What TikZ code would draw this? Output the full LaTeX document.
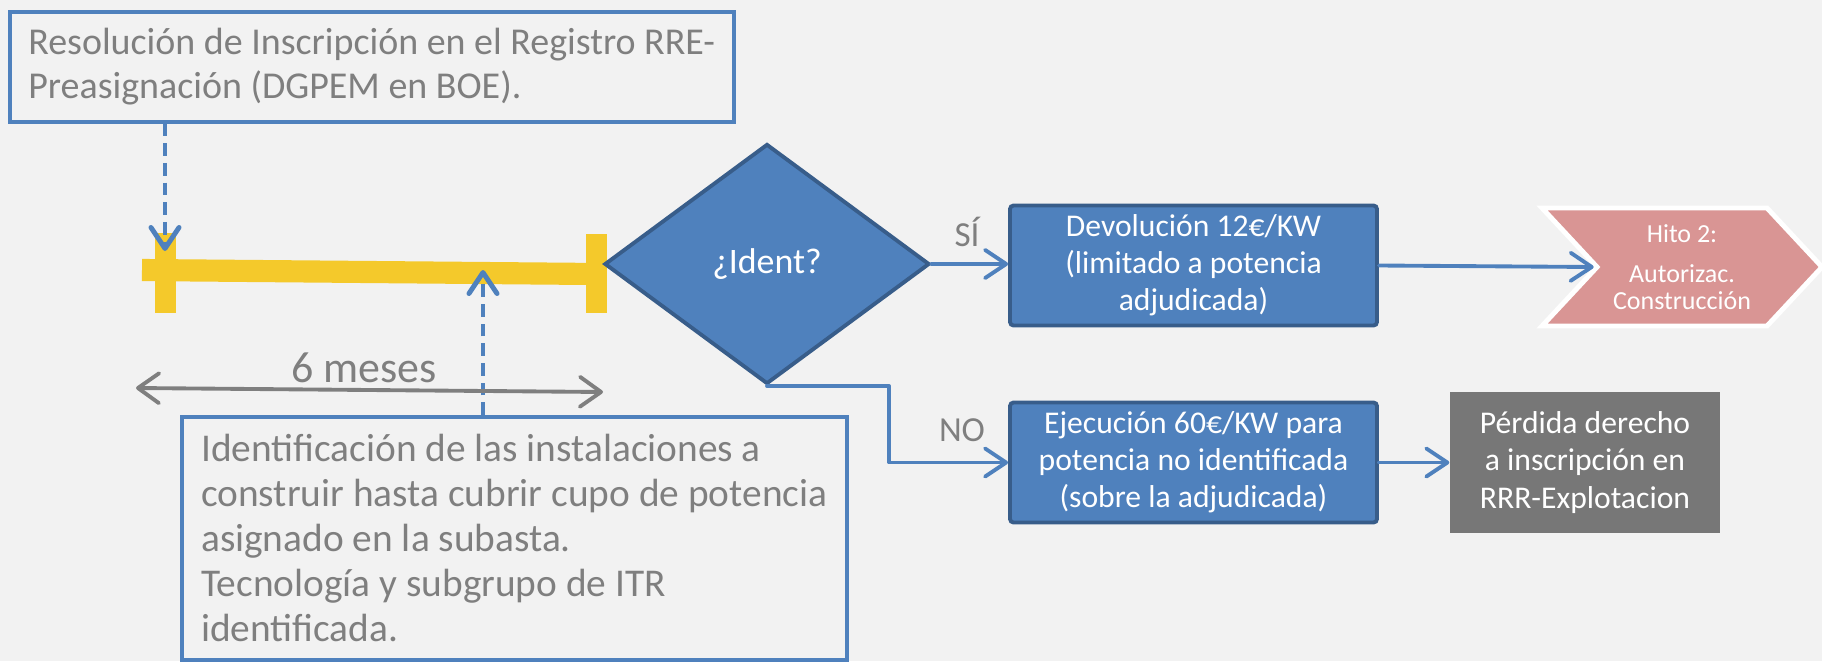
\documentclass[tikz,border=0pt]{standalone}
\usepackage{fontspec}
\setmainfont{Carlito}
\usetikzlibrary{shapes.geometric,shapes.symbols,arrows.meta}
\definecolor{fondo}{HTML}{F2F2F2}
\definecolor{azul}{HTML}{4F81BD}
\definecolor{azulosc}{HTML}{385D8A}
\definecolor{amarillo}{HTML}{F4C92B}
\definecolor{gristxt}{HTML}{7F7F7F}
\definecolor{griscaja}{HTML}{777777}
\definecolor{rosa}{HTML}{D99594}

\begin{document}
\begin{tikzpicture}[
      nota/.style={draw=azul, line width=1pt, fill=fondo, text=gristxt, align=left,
        inner xsep=0pt, inner ysep=0pt, anchor=north west},
      paso/.style={draw=azulosc, line width=1.1pt, fill=azul, text=white, align=center,
        rounded corners=1pt, minimum width=3.67cm, minimum height=1.2cm, inner sep=0pt,
        font=\fontsize{9}{10.5}\selectfont},
      etiqueta/.style={text=gristxt, font=\fontsize{10}{12}\selectfont},
      flecha/.style={draw=azul, line width=1.1pt, line cap=round, line join=round,
        -{Straight Barb[round,length=6pt,width=8pt]}},
      punteada/.style={flecha, line width=1.4pt, line cap=butt, dash pattern=on 3.6pt off 2pt},
      cota/.style={draw=gristxt, line width=1.1pt,
        {Straight Barb[round,length=6pt,width=8.5pt]}-{Straight Barb[round,length=6pt,width=8.5pt]}}]
      % Fondo
      \fill[fondo] (0,0) rectangle (18.22,-6.61);
      \useasboundingbox (0,0) rectangle (18.22,-6.61);

      % Barra de plazo
      \coordinate (b0) at (1.42,-2.70);
      \coordinate (b1) at (5.96,-2.74);
      \draw[amarillo, line width=6.3pt] (b0) -- (b1);
      \fill[amarillo] (1.55,-2.33) rectangle (1.76,-3.13);
      \fill[amarillo] (5.86,-2.34) rectangle (6.07,-3.13);
      \coordinate (t0) at (1.65,-2.51);
      \coordinate (t1) at (4.83,-2.70);

      % Define nodes
      \node[nota, minimum width=7.24cm, minimum height=1.1cm, font=\fontsize{10.8}{12.5}\selectfont]
        (resol) at (0.08,-0.10) {Resolución de Inscripción en el Registro RRE-\\Preasignación (DGPEM en BOE).};
      \node[nota, minimum width=6.65cm, minimum height=2.43cm, font=\fontsize{11.2}{12.8}\selectfont]
        (ident) at (1.80,-4.15) {Identificación de las instalaciones a\\construir hasta cubrir cupo de potencia\\asignado en la subasta.\\Tecnología y subgrupo de ITR\\identificada.};
      \node[diamond, draw=azulosc, line width=1.1pt, fill=azul, text=white, aspect=1.35,
        minimum width=3.25cm, minimum height=2.4cm, inner sep=0pt,
        font=\fontsize{10.2}{12}\selectfont] (pregunta) at (7.67,-2.64) {¿Ident?};
      \node[paso] (devol) at (11.935,-2.655) {Devolución 12€/KW\\(limitado a potencia\\adjudicada)};
      \node[paso] (ejec) at (11.935,-4.625) {Ejecución 60€/KW para\\potencia no identificada\\(sobre la adjudicada)};
      \node[fill=griscaja, text=white, align=center, minimum width=2.7cm, minimum height=1.41cm,
        inner sep=0pt, font=\fontsize{9}{10.7}\selectfont] (perdida) at (15.85,-4.625)
        {Pérdida derecho\\a inscripción en\\RRR-Explotacion};
      \node[signal, signal from=west, signal to=east, signal pointer angle=94, fill=rosa,
        draw=white, line width=1.4pt, text=white, align=center, minimum width=2.8cm,
        minimum height=1.18cm, inner sep=0pt, font=\fontsize{7.4}{7.7}\selectfont]
        (hito) at (16.82,-2.67) {Hito 2:\\[3.6pt]Autorizac.\\Construcción};
      \node[etiqueta] (si) at (9.67,-2.32) {SÍ};
      \node[etiqueta] (no) at (9.62,-4.30) {NO};
      \node[text=gristxt, anchor=base, font=\fontsize{12.5}{14}\selectfont] (meses) at (3.64,-3.82) {6 meses};
      \coordinate (dl) at (1.36,-3.88);
      \coordinate (dr) at (6.03,-3.92);

      % Connect nodes with arrows
      \draw[punteada] (resol.south -| t0) -- (t0);
      \draw[punteada] (ident.north -| t1) -- (t1);
      \draw[cota] (dl) -- (dr);
      \draw[flecha] (pregunta.east) -- (pregunta.east -| devol.west);
      \draw[flecha] (pregunta.south) -- ++(1.22,0) |- (ejec.west);
      \draw[flecha] (devol.east) -- (hito.west);
      \draw[flecha] (ejec.east) -- (perdida.west);
    \end{tikzpicture}
\end{document}
